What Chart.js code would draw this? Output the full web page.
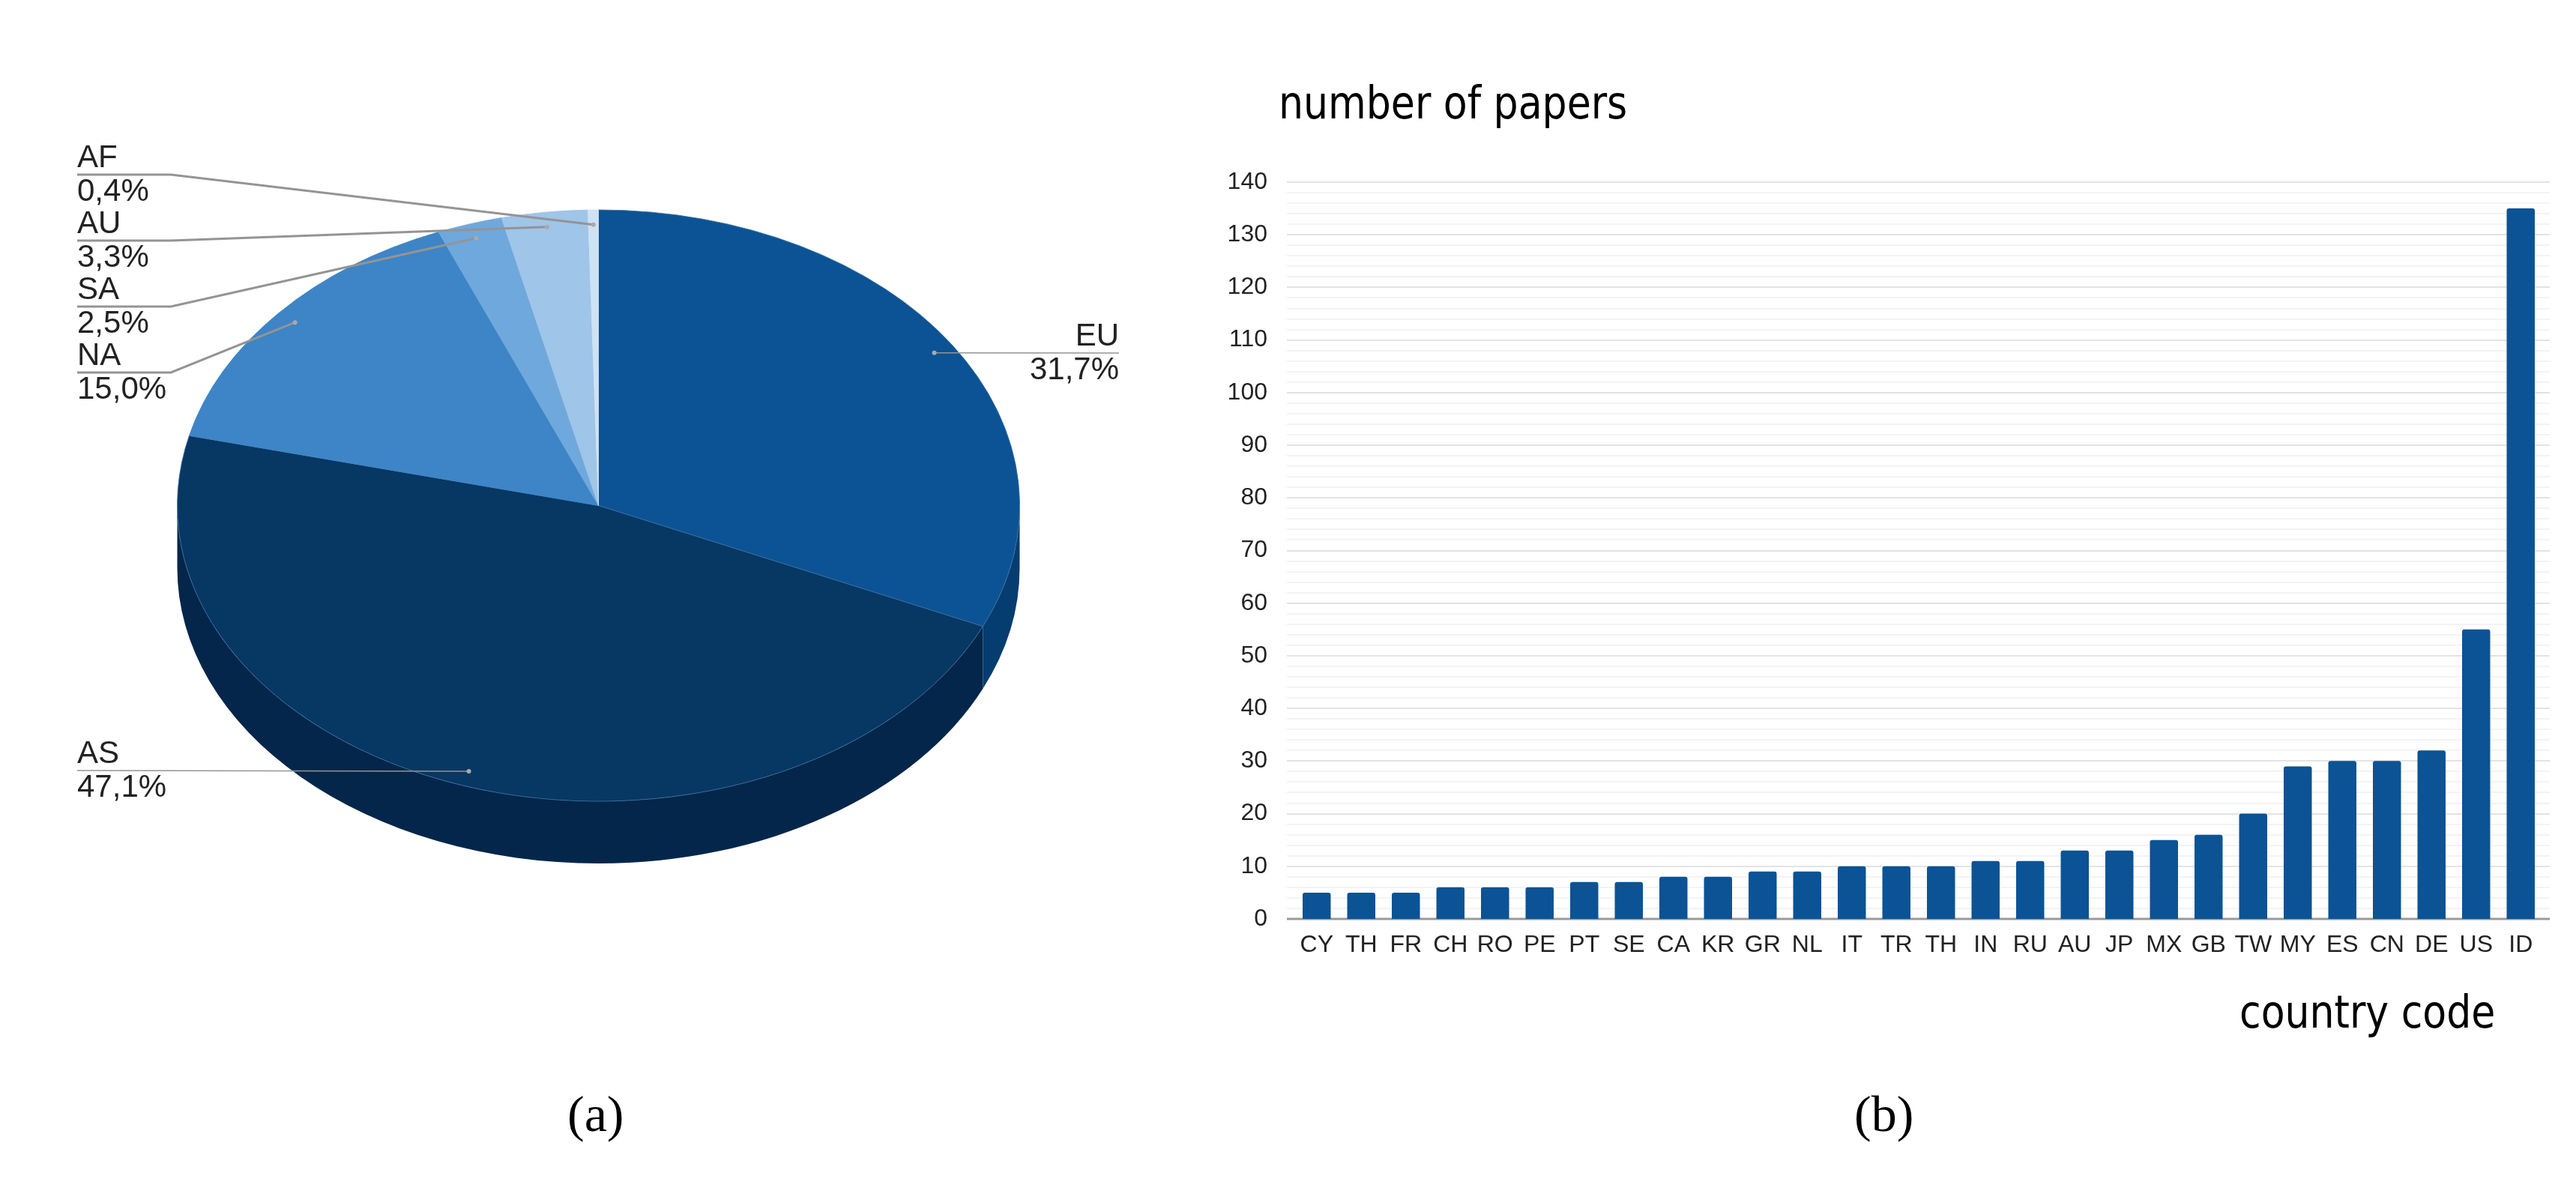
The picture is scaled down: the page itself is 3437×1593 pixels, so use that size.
<!DOCTYPE html>
<html>
<head>
<meta charset="utf-8">
<title>Papers by continent and country</title>
<script src="https://cdn.jsdelivr.net/npm/chart.js@4/dist/chart.umd.js"></script>
<style>
  html, body { margin: 0; padding: 0; background: #fff; width: 3437px; height: 1593px; overflow: hidden; }
  canvas { position: absolute; top: 0; }
  #pieChart { left: 0; }
  #barChart { left: 1600px; }
  .note { position: absolute; white-space: nowrap; line-height: 1; color: #000; transform-origin: left top; }
  .axisNote { font-family: "DejaVu Sans Condensed", "DejaVu Sans", sans-serif; font-size: 60px; transform: scaleX(0.965); }
  .caption { font-family: "Liberation Serif", serif; font-size: 68px; }
</style>
</head>
<body>
<canvas id="pieChart" width="1600" height="1593"></canvas>
<canvas id="barChart" width="1837" height="1593"></canvas>
<div class="note axisNote" style="left:1706px;top:107px">number of papers</div>
<div class="note axisNote" style="left:2988px;top:1320px">country code</div>
<div class="note caption" style="left:757px;top:1452px">(a)</div>
<div class="note caption" style="left:2474px;top:1452px">(b)</div>
<script>
// data
const continents = ['EU', 'AS', 'NA', 'SA', 'AU', 'AF'];
const continentShare = [31.7, 47.1, 15.0, 2.5, 3.3, 0.4];
const countries = ['CY', 'TH', 'FR', 'CH', 'RO', 'PE', 'PT', 'SE', 'CA', 'KR', 'GR', 'NL', 'IT', 'TR',
  'TH', 'IN', 'RU', 'AU', 'JP', 'MX', 'GB', 'TW', 'MY', 'ES', 'CN', 'DE', 'US', 'ID'];
const papers = [5, 5, 5, 6, 6, 6, 7, 7, 8, 8, 9, 9, 10, 10, 10, 11, 11, 13, 13, 15, 16, 20, 29, 30, 30, 32, 55, 135];

const sliceColors = ['#0b5394', '#073763', '#3d85c6', '#6fa8dc', '#9fc5e8', '#cfe2f3'];
const sideColors = ['#063d70', '#04264a', '#2b6299', '#4f7ea8', '#7595b0', '#9aa9b5'];
const labelFont = '42px "Liberation Sans", Arial, sans-serif';
const squash = 0.702;   // pie is tilted: circle squeezed to an ellipse
const depth = 83;
const anchorAt = 0.95;  // leader dot sits at this share of the radius

// ---- Tilted pie: squeeze the arcs, draw the rim under them ----
const tiltPlugin = {
  id: 'tilt',
  beforeDatasetsDraw(chart) {
    const ctx = chart.ctx;
    const arcs = chart.getDatasetMeta(0).data;
    arcs.forEach((arc, i) => {
      const { x, y, startAngle, endAngle, outerRadius } = arc.getProps(['x', 'y', 'startAngle', 'endAngle', 'outerRadius']);
      const from = Math.max(startAngle, 0);
      const to = Math.min(endAngle, Math.PI);
      if (to <= from) return;
      ctx.beginPath();
      ctx.ellipse(x, y, outerRadius, outerRadius * squash, 0, from, to);
      ctx.ellipse(x, y + depth, outerRadius, outerRadius * squash, 0, to, from, true);
      ctx.closePath();
      ctx.fillStyle = sideColors[i];
      ctx.fill();
    });
    const { x, y } = arcs[0];
    ctx.save();
    ctx.translate(x, y);
    ctx.scale(1, squash);
    ctx.translate(-x, -y);
  },
  afterDatasetsDraw(chart) {
    chart.ctx.restore();
  }
};

// ---- Leader lines with the two-line labels ----
const leaderRows = { EU: 471, AS: 1028, NA: 497, SA: 409, AU: 321, AF: 233 };
const leaderPlugin = {
  id: 'leaders',
  afterDraw(chart) {
    const ctx = chart.ctx;
    chart.getDatasetMeta(0).data.forEach((arc, i) => {
      const { x, y, startAngle, endAngle, outerRadius } = arc.getProps(['x', 'y', 'startAngle', 'endAngle', 'outerRadius']);
      const mid = (startAngle + endAngle) / 2;
      const ax = x + Math.cos(mid) * outerRadius * anchorAt;
      const ay = y + Math.sin(mid) * outerRadius * anchorAt * squash;
      const name = continents[i];
      const row = leaderRows[name];
      const right = name === 'EU';
      const edge = right ? 1493 : 103;
      const thin = right || name === 'AS';

      ctx.strokeStyle = '#949494';
      ctx.lineWidth = thin ? 1.5 : 3;
      ctx.beginPath();
      ctx.moveTo(edge, row);
      if (!thin) ctx.lineTo(228, row);
      ctx.lineTo(ax, ay);
      ctx.stroke();
      ctx.fillStyle = '#aaa';
      ctx.beginPath();
      ctx.arc(ax, ay, 3, 0, Math.PI * 2);
      ctx.fill();

      ctx.fillStyle = '#222';
      ctx.font = labelFont;
      ctx.textAlign = right ? 'right' : 'left';
      ctx.textBaseline = 'alphabetic';
      ctx.fillText(name, edge, row - 10);
      ctx.fillText(continentShare[i].toFixed(1).replace('.', ',') + '%', edge, row + 35);
    });
  }
};

new Chart(document.getElementById('pieChart'), {
  type: 'pie',
  data: {
    labels: continents,
    datasets: [{
      data: continentShare,
      backgroundColor: sliceColors,
      borderColor: ['#3a6fa0', '#3a6fa0', '#3d85c6', '#6fa8dc', '#9fc5e8', '#cfe2f3'],
      borderWidth: 1,
      hoverOffset: 0
    }]
  },
  options: {
    responsive: false,
    animation: false,
    devicePixelRatio: 1,
    layout: { padding: { left: 236, right: 239, top: 112, bottom: 356 } },
    plugins: { legend: { display: false }, tooltip: { enabled: false } }
  },
  plugins: [tiltPlugin, leaderPlugin]
});

// ---- Gridlines run a little past the first and last bar ----
const gridPlugin = {
  id: 'extendedGrid',
  beforeDatasetsDraw(chart) {
    const ctx = chart.ctx;
    const { left, right } = chart.chartArea;
    const y = chart.scales.y;
    for (let v = y.min; v <= y.max; v += 2) {
      const py = Math.round(y.getPixelForValue(v));
      if (v === 0) {
        ctx.strokeStyle = '#999';
        ctx.lineWidth = 3;
      } else {
        ctx.strokeStyle = v % 10 === 0 ? '#e3e3e3' : '#f3f3f3';
        ctx.lineWidth = 2;
      }
      ctx.beginPath();
      ctx.moveTo(left - 10, py);
      ctx.lineTo(right + 9, py);
      ctx.stroke();
    }
  }
};

new Chart(document.getElementById('barChart'), {
  type: 'bar',
  data: {
    labels: countries,
    datasets: [{
      data: papers,
      backgroundColor: '#0b5394',
      borderRadius: 3,
      categoryPercentage: 1,
      barPercentage: 0.63
    }]
  },
  options: {
    responsive: false,
    animation: false,
    devicePixelRatio: 1,
    layout: { padding: { left: 0, right: 44, top: 243, bottom: 307 } },
    plugins: { legend: { display: false }, tooltip: { enabled: false } },
    scales: {
      x: {
        grid: { display: false },
        border: { display: false },
        afterFit(scale) { scale.height = 60; },
        ticks: {
          autoSkip: false,
          maxRotation: 0,
          padding: 8,
          color: '#222',
          font: { family: '"Liberation Sans", Arial, sans-serif', size: 32 }
        }
      },
      y: {
        min: 0,
        max: 140,
        grid: { display: false },
        border: { display: false },
        afterFit(scale) { scale.width = 127; },
        ticks: {
          stepSize: 10,
          padding: 28,
          color: '#222',
          font: { family: '"Liberation Sans", Arial, sans-serif', size: 32 }
        }
      }
    }
  },
  plugins: [gridPlugin]
});
</script>
</body>
</html>
